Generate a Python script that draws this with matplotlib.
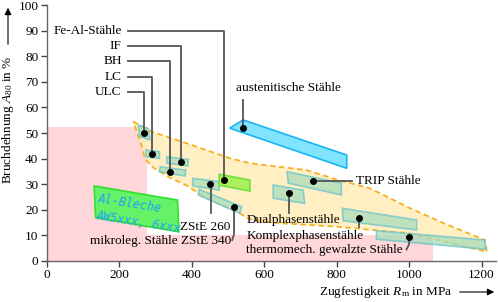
"""
plot.py — Festigkeit / Bruchdehnung von Blechwerkstoffen
"""
import matplotlib
matplotlib.use("Agg")
import matplotlib.pyplot as plt
from matplotlib.patches import Polygon, Rectangle

plt.rcParams["font.family"] = ["Liberation Serif", "DejaVu Serif"]
plt.rcParams["mathtext.fontset"] = "custom"
plt.rcParams["mathtext.rm"] = "Liberation Serif"
plt.rcParams["mathtext.it"] = "Liberation Serif:italic"

# --- Daten ----------------------------------------------------------------
# Hintergrundbereiche (x0, x1, y0, y1)
pink_regions = [(0, 276, 0, 52.5), (0, 1066, 0, 10)]

# Hüllkurve der Stähle (gestrichelt)
envelope_upper = [(239, 54.4), (290, 50.5), (386, 46), (506, 40.1), (561, 38.2),
                  (717, 35.5), (800, 31.8), (892, 28.4), (1000, 20.8),
                  (1100, 14.5), (1209, 8.2)]
envelope_lower = [(1215, 3.6), (1000, 10.8), (800, 13.4), (620, 15), (556, 16.5),
                  (524, 19.5), (478, 22), (430, 25.5), (386, 29.5), (340, 32.5),
                  (294, 36.5), (271, 40), (262, 45)]

# Stahlsorten: Umriss + Punkt
steel_names = ["ULC", "LC", "BH", "IF", "ZStE 260", "ZStE 340",
               "TRIP", "DP", "CP", "TM"]
steel_boxes = [
    [(253, 53.1), (280, 51.8), (285, 47.3), (257, 48.6)],
    [(274, 43.4), (311, 42.7), (311, 40.1), (274, 40.7)],
    [(313, 36.8), (384, 35.5), (382, 33.2), (311, 34.9)],
    [(331, 40.7), (391, 39.7), (389, 37.1), (331, 38.2)],
    [(403, 32.3), (476, 31.0), (476, 27.7), (403, 29.3)],
    [(421, 28.0), (538, 21.2), (533, 18.6), (418, 25.8)],
    [(663, 34.9), (813, 30.4), (813, 25.8), (667, 30.4)],
    [(625, 29.7), (708, 27.7), (712, 22.5), (625, 24.5)],
    [(816, 20.6), (1021, 16.0), (1021, 12.1), (818, 15.7)],
    [(910, 11.8), (1209, 8.2), (1211, 4.6), (910, 8.5)],
]
steel_dots = [(269, 49.9), (291, 41.7), (340, 34.9), (370, 38.7), (451, 30.1),
              (517, 21.2), (734, 31.2), (669, 26.4), (862, 16.9), (1000, 9.3)]

feal_box = [(476, 33.9), (561, 31.6), (561, 27.3), (476, 29.6)]
feal_dot = (490, 31.6)

aust_box = [(505, 51.9), (542, 55.1), (828, 41.4), (828, 36.2)]
aust_dot = (541, 52.1)

al_box = [(131, 29.3), (361, 23.8), (365, 11.4), (135, 16.9)]

# linke Beschriftungen: Text, y-Höhe, Ziel-Punkt
left_labels = ["Fe-Al-Stähle", "IF", "BH", "LC", "ULC"]
left_label_y = [90, 84, 78, 72, 66]
left_label_dots = [feal_dot, steel_dots[3], steel_dots[2], steel_dots[1], steel_dots[0]]

fig = plt.figure(figsize=(4.98, 3.02), dpi=100)
ax = fig.add_axes([0.0938, 0.1358, 0.9022, 0.8476])
ax.set_xlim(0, 1240)
ax.set_ylim(0, 100)

# Hintergrund
for x0, x1, y0, y1 in pink_regions:
    ax.add_patch(Rectangle((x0, y0), x1 - x0, y1 - y0, facecolor="#ffd6d9",
                           edgecolor="none", zorder=0))

# Hüllkurve
env = envelope_upper + envelope_lower
ax.add_patch(Polygon(env, closed=True, facecolor="#ffedb8", alpha=0.85,
                     edgecolor="none", zorder=1))
ax.add_patch(Polygon(env, closed=True, facecolor="none", edgecolor="#f5b020",
                     linestyle=(0, (3, 2)), linewidth=1.3, zorder=2))

# Al-Bleche
ax.add_patch(Polygon(al_box, closed=True, facecolor="#66f266",
                     edgecolor="#2ee02e", linewidth=1.2, zorder=3))
al_font = dict(family="DejaVu Sans Mono", style="oblique", fontsize=8.5,
               color="#1ea0ff", rotation=-9, ha="left", va="center",
               rotation_mode="anchor", zorder=4)
ax.text(142, 24.4, "Al-Bleche", **al_font)
ax.text(138, 17.6, "AW5xxx, 6xxx", **al_font)

# Stahlsorten
for box in steel_boxes:
    ax.add_patch(Polygon(box, closed=True, facecolor="#a9dcbc", alpha=0.75,
                         edgecolor="#68c4cc", linewidth=1.2, zorder=3))
ax.add_patch(Polygon(feal_box, closed=True, facecolor="#acef5c",
                     edgecolor="#70e040", linewidth=1.2, zorder=3))
ax.add_patch(Polygon(aust_box, closed=True, facecolor="#80e4ff",
                     edgecolor="#1ab4f4", linewidth=1.2, zorder=3))

dots = steel_dots + [feal_dot, aust_dot]
ax.scatter([d[0] for d in dots], [d[1] for d in dots], s=16, color="black",
           zorder=6)

# Leader-Linien
lc = "#555555"
lw = 1.3
for txt, ly, (dx, dy) in zip(left_labels, left_label_y, left_label_dots):
    ax.plot([223, dx, dx], [ly, ly, dy], color=lc, lw=lw, zorder=5)
    ax.text(207, ly, txt, ha="right", va="center", fontsize=9.5)

ax.plot([aust_dot[0], aust_dot[0]], [aust_dot[1], 62.9], color=lc, lw=lw, zorder=5)
ax.text(522, 67.5, "austenitische Stähle", ha="left", va="center", fontsize=9.5)

trip = steel_dots[6]
ax.plot([trip[0], 843], [trip[1], trip[1]], color=lc, lw=lw, zorder=5)
ax.text(853, trip[1], "TRIP Stähle", ha="left", va="center", fontsize=9.5)

dp = steel_dots[7]
ax.plot([dp[0], dp[0]], [dp[1], 18.6], color=lc, lw=lw, zorder=5)
ax.text(551, 16, "Dualphasenstähle", ha="left", va="center", fontsize=9.5)

cp = steel_dots[8]
ax.plot([cp[0], cp[0]], [cp[1], 13.4], color=lc, lw=lw, zorder=5)
ax.text(551, 9.8, "Komplexphasenstähle", ha="left", va="center", fontsize=9.5)

tm = steel_dots[9]
ax.plot([tm[0], tm[0], 993], [tm[1], 6.5, 4.5], color=lc, lw=lw, zorder=5)
ax.text(551, 4.3, "thermomech. gewalzte Stähle", ha="left", va="center",
        fontsize=9.5)

z260 = steel_dots[4]
ax.plot([453, 453], [z260[1], 18.6], color=lc, lw=lw, zorder=5)
ax.text(368, 13.4, "ZStE 260", ha="left", va="center", fontsize=9.5)

z340 = steel_dots[5]
ax.plot([z340[0], z340[0], 512], [z340[1], 10.5, 8.2], color=lc, lw=lw, zorder=5)
ax.text(510, 7.8, "mikroleg. Stähle ZStE 340", ha="right", va="center",
        fontsize=9.5)

# Achsen
for side in ("top", "right"):
    ax.spines[side].set_visible(False)
for side in ("left", "bottom"):
    ax.spines[side].set_color("#666666")
    ax.spines[side].set_linewidth(1.0)
ax.set_xticks(range(0, 1201, 200))
ax.set_yticks(range(0, 101, 10))
ax.tick_params(direction="out", length=4, width=1, color="#444444",
               labelsize=9.5, pad=2)

# Achsbeschriftungen mit Pfeilen
fig.text(452 / 498, 1 - 292 / 302, r"Zugfestigkeit $R_\mathrm{m}$ in MPa",
         ha="right", va="center", fontsize=9.5)
ax.annotate("", xy=(0.998, 1 - 292 / 302), xytext=(457 / 498, 1 - 292 / 302),
            xycoords="figure fraction", textcoords="figure fraction",
            arrowprops=dict(arrowstyle="-|>", color="black", lw=0.8,
                            mutation_scale=10))
fig.text(8 / 498, 1 - 120 / 302, r"Bruchdehnung $A_{80}$ in %", rotation=90,
         ha="center", va="center", fontsize=9.5)
ax.annotate("", xy=(8 / 498, 1 - 5 / 302), xytext=(8 / 498, 1 - 47 / 302),
            xycoords="figure fraction", textcoords="figure fraction",
            arrowprops=dict(arrowstyle="-|>", color="black", lw=0.8,
                            mutation_scale=10))

fig.savefig("out.png", dpi=100)
plt.close(fig)
